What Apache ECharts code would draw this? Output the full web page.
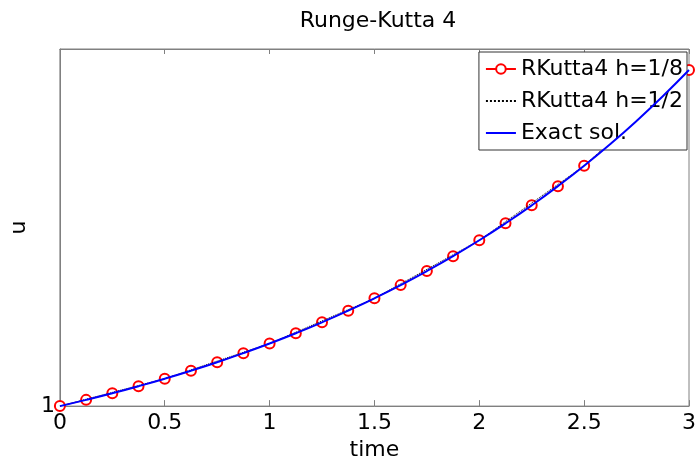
<!DOCTYPE html>
<html>
<head>
<meta charset="utf-8">
<script src="https://cdn.jsdelivr.net/npm/echarts@6/dist/echarts.min.js"></script>
<style>html,body{margin:0;padding:0;background:#fff;}#c{width:699px;height:466px;}</style>
</head>
<body>
<div id="c"></div>
<script>
// time grid for h = 1/8
var tFine = [0, 0.125, 0.25, 0.375, 0.5, 0.625, 0.75, 0.875, 1, 1.125, 1.25, 1.375, 1.5, 1.625, 1.75, 1.875, 2, 2.125, 2.25, 2.375, 2.5, 2.625, 2.75, 2.875, 3];
// RK4 h=1/8 values
var uRK8 = [1.0000, 1.0645, 1.1331, 1.2062, 1.2840, 1.3668, 1.4550, 1.5488, 1.6487, 1.7551, 1.8682, 1.9887, 2.1170, 2.2535, 2.3989, 2.5536, 2.7183, 2.8936, 3.0802, 3.2789, 3.4903, 3.7154, 3.9551, 4.2102, 4.4817];
// time grid for h = 1/2
var tCoarse = [0, 0.5, 1, 1.5, 2, 2.5, 3];
// RK4 h=1/2 values
var uRK2 = [1.0000, 1.2840, 1.6487, 2.1170, 2.7182, 3.4903, 4.4816];
// exact solution samples
var uExact = [1.0000, 1.0645, 1.1331, 1.2062, 1.2840, 1.3668, 1.4550, 1.5488, 1.6487, 1.7551, 1.8683, 1.9887, 2.1170, 2.2535, 2.3989, 2.5536, 2.7183, 2.8936, 3.0802, 3.2789, 3.4903, 3.7155, 3.9551, 4.2102, 4.4817];
var xTicks = ['0', '0.5', '1', '1.5', '2', '2.5', '3'];
var yTicks = ['1'];

function pairs(xs, ys) { return xs.map(function (x, i) { return [x, ys[i]]; }); }

var FONT = 'DejaVu Sans';
var chart = echarts.init(document.getElementById('c'), null, { renderer: 'canvas' });
chart.setOption({
  animation: false,
  backgroundColor: '#fff',
  title: {
    text: 'Runge-Kutta 4',
    left: 373, top: 5, textAlign: 'center',
    textStyle: { fontFamily: FONT, fontSize: 22, fontWeight: 'normal', color: '#000' }
  },
  grid: { left: 56, right: 7, top: 49, bottom: 57, show: true, borderColor: '#808080', borderWidth: 1, containLabel: false },
  legend: {
    orient: 'vertical', right: 12, top: 52,
    padding: [6, 4, 6, 6], itemGap: 10, itemWidth: 30, itemHeight: 12,
    borderColor: '#333', borderWidth: 1, backgroundColor: '#fff',
    selectedMode: false,
    textStyle: { fontFamily: FONT, fontSize: 22, color: '#000' },
    data: [
      { name: 'RKutta4 h=1/8' },
      { name: 'RKutta4 h=1/2', itemStyle: { opacity: 0 } },
      { name: 'Exact sol.', itemStyle: { opacity: 0 } }
    ]
  },
  xAxis: [{
    type: 'value', min: 0, max: 3, interval: 0.5,
    name: 'time', nameLocation: 'middle', nameGap: 29,
    nameTextStyle: { fontFamily: FONT, fontSize: 22, color: '#000' },
    axisLine: { lineStyle: { color: '#808080' } },
    axisTick: { inside: true, length: 6, lineStyle: { color: '#808080' } },
    splitLine: { show: false },
    axisLabel: { fontFamily: FONT, fontSize: 22, color: '#000', margin: 6,
      formatter: function (v) { var i = Math.round(v / 0.5); return xTicks[i] !== undefined ? xTicks[i] : ''; } }
  }, {
    type: 'value', min: 0, max: 3, interval: 0.5, position: 'top',
    axisLine: { lineStyle: { color: '#808080' } },
    axisTick: { inside: true, length: 5, lineStyle: { color: '#808080' } },
    splitLine: { show: false }, axisLabel: { show: false }
  }],
  yAxis: {
    type: 'value', min: 1, max: 4.7, interval: 1,
    name: 'u', nameLocation: 'middle', nameGap: 26, nameRotate: 90,
    nameTextStyle: { fontFamily: FONT, fontSize: 22, color: '#000' },
    axisLine: { show: true, lineStyle: { color: '#808080' } },
    axisTick: { show: false },
    splitLine: { show: false },
    axisLabel: { fontFamily: FONT, fontSize: 22, color: '#000', margin: 5,
      formatter: function (v) { return v === 1 ? yTicks[0] : ''; } }
  },
  series: [{
    name: 'RKutta4 h=1/8', type: 'line', data: pairs(tFine, uRK8), clip: false,
    symbol: 'emptyCircle', symbolSize: 10, showAllSymbol: true,
    lineStyle: { color: '#ff0000', width: 1 },
    itemStyle: { color: '#ff0000', borderColor: '#ff0000', borderWidth: 1 },
    z: 2
  }, {
    name: 'RKutta4 h=1/2', type: 'line', data: pairs(tCoarse, uRK2), symbol: 'none',
    lineStyle: { color: '#000', width: 1, type: 'dotted' },
    itemStyle: { color: '#000' },
    z: 3
  }, {
    name: 'Exact sol.', type: 'line', data: pairs(tFine, uExact), symbol: 'none', smooth: true,
    lineStyle: { color: '#0000ff', width: 2 },
    itemStyle: { color: '#0000ff' },
    z: 4
  }]
});
</script>
</body>
</html>
